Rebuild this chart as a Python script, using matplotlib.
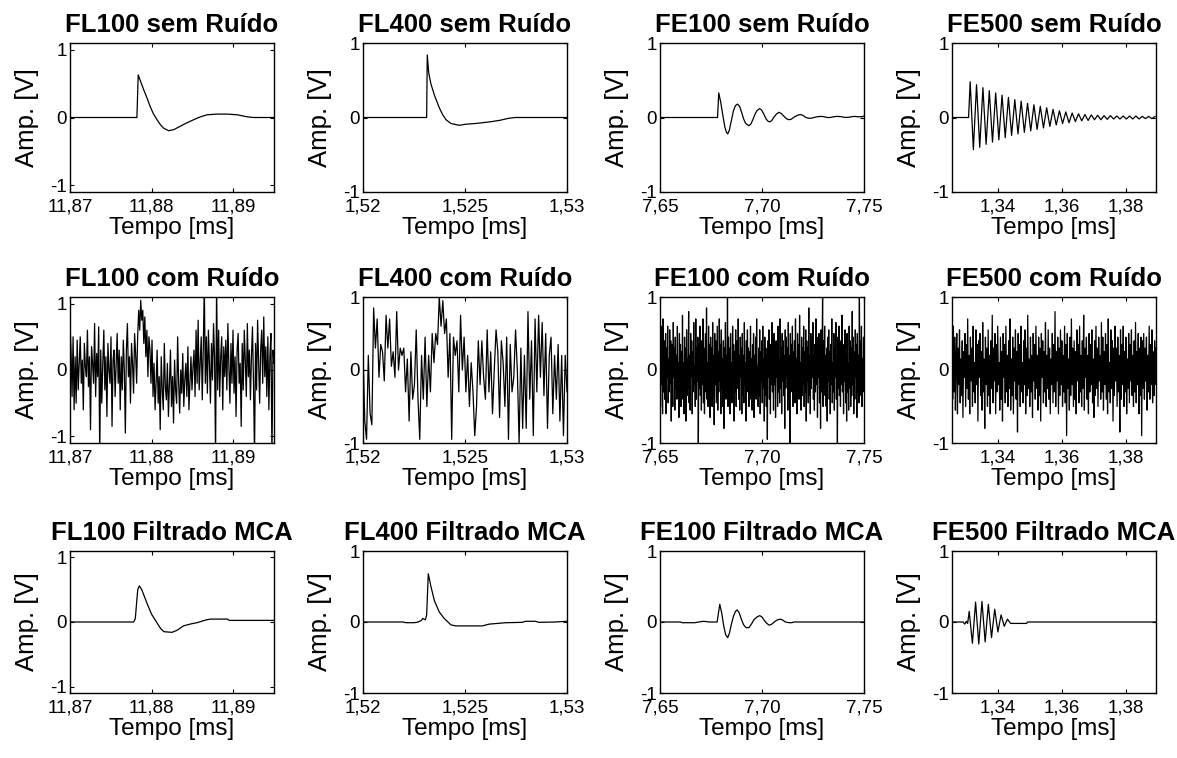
import numpy as np
import matplotlib
matplotlib.use("Agg")
import matplotlib.pyplot as plt

plt.rcParams['font.family'] = ['Liberation Sans', 'DejaVu Sans']

# ---------------- data ----------------
titles = [["FL100 sem Ruído", "FL400 sem Ruído", "FE100 sem Ruído", "FE500 sem Ruído"],
          ["FL100 com Ruído", "FL400 com Ruído", "FE100 com Ruído", "FE500 com Ruído"],
          ["FL100 Filtrado MCA", "FL400 Filtrado MCA", "FE100 Filtrado MCA", "FE500 Filtrado MCA"]]

xlims = [(11.87, 11.895), (1.52, 1.53), (7.65, 7.75), (1.3255, 1.3895)]
ylims = [(-1.1, 1.1), (-1.0, 1.0), (-1.0, 1.0), (-1.0, 1.0)]
xtick_vals = [[11.87, 11.88, 11.89], [1.52, 1.525, 1.53], [7.65, 7.70, 7.75], [1.34, 1.36, 1.38]]
xtick_labels = [["11,87", "11,88", "11,89"], ["1,52", "1,525", "1,53"],
                ["7,65", "7,70", "7,75"], ["1,34", "1,36", "1,38"]]
ytick_vals = [-1, 0, 1]
ytick_labels = ["-1", "0", "1"]

# Row 1 - clean signals
fl100_t = [11.870, 11.8782, 11.87836, 11.8786, 11.8790, 11.8794, 11.8798, 11.8802, 11.8807,
           11.8811, 11.8815, 11.8821, 11.8827, 11.8835, 11.8843, 11.8852, 11.8860, 11.8868,
           11.8880, 11.8893, 11.8905, 11.8917, 11.8925, 11.895]
fl100_v = [0, 0, 0.63, 0.55, 0.42, 0.30, 0.17, 0.06, -0.04, -0.11, -0.16, -0.195, -0.18,
           -0.13, -0.08, -0.03, 0.01, 0.04, 0.05, 0.05, 0.04, 0.01, 0.0, 0.0]

fl400_t = [1.520, 1.52312, 1.52315, 1.52322, 1.52333, 1.5235, 1.52374, 1.5239, 1.52407,
           1.52431, 1.52472, 1.52504, 1.52553, 1.52618, 1.52667, 1.52715, 1.52748, 1.530]
fl400_v = [0, 0, 0.84, 0.60, 0.45, 0.30, 0.13, 0.04, -0.03, -0.08, -0.105, -0.09, -0.08,
           -0.06, -0.04, -0.01, 0.0, 0.0]

fe100_t = [7.65, 7.6782, 7.6788, 7.6798, 7.6808, 7.6818, 7.6826, 7.6832, 7.6840, 7.6850,
           7.6860, 7.6870, 7.6880, 7.6890, 7.6900, 7.6910, 7.6920, 7.6935, 7.6945, 7.6955,
           7.6965, 7.6975, 7.6988, 7.6998, 7.7010, 7.7020, 7.7030, 7.7038, 7.7048, 7.7060,
           7.7072, 7.7084, 7.7096, 7.7110, 7.7122, 7.7133, 7.7145, 7.7160, 7.7175, 7.7188,
           7.7200, 7.7215, 7.7228, 7.7240, 7.7255, 7.7270, 7.7290, 7.7305, 7.7320, 7.7335,
           7.7350, 7.7370, 7.7390, 7.7410, 7.7430, 7.7450, 7.7470, 7.7490, 7.7500]
fe100_v = [0, 0, 0.33, 0.20, 0.03, -0.13, -0.20, -0.22, -0.17, -0.04,
           0.09, 0.16, 0.18, 0.15, 0.07, -0.02, -0.08, -0.11, -0.09, -0.03,
           0.04, 0.09, 0.12, 0.10, 0.04, -0.02, -0.05, -0.06, -0.04, 0.01,
           0.05, 0.07, 0.05, 0.01, -0.02, -0.03, -0.02, 0.01, 0.03, 0.04,
           0.03, 0.0, -0.01, -0.01, 0.0, 0.01, 0.015, 0.01, 0.0, 0.0,
           0.01, 0.015, 0.01, 0.0, 0.005, 0.015, 0.01, 0.01, 0.02]

fe500_pre_t = [1.3255, 1.3307]
fe500_osc_span = (1.3312, 1.3892)
fe500_osc_v = [.48, -.43, .44, -.40, .40, -.36, .36, -.33, .33, -.30, .30, -.27, .27, -.24,
               .24, -.22, .22, -.20, .19, -.18, .17, -.16, .15, -.14, .13, -.12, .11, -.10,
               .09, -.08, .075, -.07, .06, -.055, .05, -.045, .04, -.04, .035, -.03, .03, -.03,
               .025, -.025, .025, -.02, .02, -.02, .02, -.02, .02, -.02, .02, -.02, .015,
               -.015, .015, -.015, .015]

# Row 2 - noisy signals (uniformly sampled over the whole window)
fl100n_v = [.7, .3, -.4, .5, -.6, .2, -.5, .45, -.3, .1, .5, -.2, .15, -.6, .4, .05, -.1, .6, -.25, .2,
            -.9, .35, .1, -.2, .7, -.4, .25, -.1, .65, -1.3, .3, -.5, .1, .6, -.3, .2, -.7, .4, 0, -.2,
            .5, -.85, .15, .3, -.4, .1, .55, -.2, .3, -.6, .2, -.3, .45, 0, -.95, .3, .7, -.1, .2, -.5,
            .4, .1, -.35, .55, .25, -.2,
            .5, .9, .6, 1.05, .75, .9, .4, .8, .2, .6, -.1, .5, .3, -.2, .45,
            -.4, .1, -.6, -.2, .3, -.5, -.1, -.9, .2, -.3, -.6, .4, -.25, -.45, .1, -.7, -.2, .3, -.55, -.1,
            -.8, .15, -.3, -.5, .5, -.2, -.65, 0, -.35, .25, -.55, -.15, .1, -.4, .35, -.6, -.2, .2, -.3, .05,
            .3, -.4, .6, -.2, .75, -.3, .1, .5, -.45, .3, 1.3, -.2, .5, -.35, .6, .1, -.5, .4, -.15, .7,
            .2, -1.3, 1.3, -.3, .6, -.4, .2, .5, -.6, .35, -.1, .45, -.3, .7, .05, -.5, .4, -.2, .6, -.35,
            .2, -.7, .3, .55, -.2, .1, -.85, .4, -.3, .6, .15, -.4, .7, -.1, .3, -.45, .2, .65, -.2, -1.3,
            .4, -.3, .75, .1, -.5, .3, .6, -.2, .8, -.1, .35, -.4, .5, -.6, .2, .55, -1.3, .3, .1]

fl400n_v = [.25, -.7, -.95, .2, -.6, -.75, .85, .3, .7, -.1, .35, .25, -.15, .75, .3, .7, .05, .25, -.1, .8,
            0, .3, .2, .3, -.3, .15, -.7, .25, -.4, -.2, .55, -.4, -.95, .2, -.4, .45, -.5, .2, -.3, .5,
            .1, .5, .35, 1.0, .6, .95, .5, .7, -.1, .5, -.95, .45, .2, .4, -.3, .75, 0, .45, -.3, .2,
            -.5, .1, -.3, -.9, -.5, .4, -.2, .4, -.1, -.4, .55, -.3, .25, -.6, 0, .55, .25, -.65, .4, .1,
            -.5, .45, -.95, .35, -.3, -.1, .55, 0, -1.0, .3, -.8, .2, -.8, .8, -.4, .4, -.9, .7, -.3, .75,
            -.1, .65, -.35, .5, -.8, .2, .45, -.6, .2, -.4, .35, -.7, .2, -.9, .2, -.3]

fe100n_v = [.3, -.5, .6, -.2, .1, -.6, .7, -.3, .4, -.4, .2, .5, -.6, .3, -.1, .6, -.45, .15, -.3, .55,
            -.2, .4, -.7, .35, .05, -.5, .65, -.1, .3, -.55, .45, -.25, .2, -.4, .6, -.3, .1, -.65, .5, -.15,
            .35, -.5, .25, -.2, .75, -.4, .1, -.6, .45, -.05, .3, -.7, .55, -.35, .15, -.25, .8, -.45, .2, -.55,
            .5, -.1, .4, -.6, .25, -.3, .65, -.2, .05, -.5, .7, -.4, .3, -.15, .45, -1.05, .35, -.25, .6, -.35,
            .15, -.55, .4, -.2, .7, -.45, .3, -.6, .2, .5, -.3, .85, -.4, .1, -.5, .6, -.25, .35, -.65, .45,
            -.1, .3, -.5, .65, -.35, .2, -.75, .5, -.2, .4, -.45, .1, .6, -.55, .25, -.3, .7, -.15, .35, -.6,
            .55, -.25, .15, -.5, .4, -.8, .3, -.1, .65, -.4, .2, -.35, 1.05, -.5, .45, -.2, .3, -.6, .5, -.3,
            .1, -.45, .6, -.15, .35, -.7, .25, -.3, .55, -.5, .15, .4, -.25, .7, -.4, .2, -.55, .45, -.1, .3,
            -.6, .5, -.35, .2, -.45, .65, -.2, .1, -.7, .4, -.3, .55, -.15, .3, -.5, .25, -.4, .6, -.25, .15,
            -.55, .35, -.1, .5, -.65, .2, -.3, .45, -.4, .7, -.2, .05, -.5, .3, -.35, .55, -.6, .25, -.15, .4,
            -.45, .6, -.25, .15, -.7, .45, -.35, .3, -.5, .2, -.95, .4, -.1, .55, -.4, .25, -.6, .35, -.2, .65,
            -.3, .1, -.55, .5, -.2, .35, -.65, .4, -.1, .25, -.5, .6, -.3, .15, -.45, .7, -.25, .3, -.6, .5,
            -.15, .4, -.35, .2, -.8, .55, -.25, .45, -.1, .3, -.55, .65, -.4, .2, -1.05, .5, -.3, .35, -.2, .6,
            -.5, .25, -.1, .4, -.45, .7, -.3, .15, -.6, .5, -.2, .35, -.4, .75, -.25, .1, -.55, .45, -.35, .3,
            -.2, .6, -.5, .25, -.3, .55, -.7, .4, -.15, .3, -.45, .85, -.35, .2, -.6, .5, -.25, .4, -.1, .65,
            -.4, .2, -.55, .35, -.3, .7, -.2, .45, -.65, .3, -.1, .5, -.45, .25, -.8, .55, -.3, .15, 1.05, -.5,
            .4, -.25, .6, -.35, .2, -.5, .3, -.7, .45, -.15, .55, -.4, .25, -.6, .35, -.2, .7, -.45, .1, -.3,
            .5, -.55, .3, -.1, .65, -.4, .2, -1.05, .45, -.25, .6, -.35, .15, -.5, .4, -.2, .75, -.3, .25, -.6,
            .35, -.15, .55, -.45, .2, -.7, .5, -.3, .1, -.55, .6, -.25, .4, -.5, .3, -.35, .8, -.2, .45, -.6,
            .25, -.4, .55, -.1, .35, -.65, .5, -.3, .2, -.45, 1.05, -.35, .4, -.2, .6, -.5, .15, -.3, .45, -.25]

fe500n_v = [.2, -.4, .6, -.3, .45, -.55, .1, .5, -.6, .3, -.2, .55, -.45, .15, -.35, .4, -.65, .25, -.1, .5,
            -.5, .35, -.25, .7, -.4, .2, -.6, .45, -.15, .3, -.5, .6, -.3, .1, -.45, .55, -.2, .35, -.7, .4,
            -.1, .5, -.35, .25, -.55, .65, -.3, .15, -.8, .45, -.2, .3, -.5, .55, -.35, .2, -.6, .4, -.25, .75,
            -.45, .3, -.15, .5, -.6, .35, -.3, .6, -.2, .1, -.55, .45, -.4, .25, -.7, .5, -.1, .35, -.45, .6,
            -.3, .2, -.5, .4, -.25, .7, -.55, .15, -.35, .45, -.6, .3, -.15, .55, -.4, .25, -.85, .5, -.2, .35,
            -.5, .6, -.3, .1, -.45, .4, -.2, .55, -.6, .3, -.35, .75, -.25, .15, -.5, .45, -.3, .2, -.65, .5,
            -.15, .35, -.4, .6, -.25, .2, -.55, .45, -.35, .3, -.7, .5, -.1, .4, -.45, .25, -.3, .65, -.5, .2,
            -.25, .55, -.4, .3, -.6, .15, -.2, .5, -.45, .35, -.3, .8, -.5, .25, -.15, .45, -.6, .3, -.35, .55,
            -.2, .4, -.5, .2, -.3, .6, -.45, .35, -.9, .5, -.25, .15, -.55, .45, -.35, .7, -.2, .3, -.5, .4,
            -.4, .25, -.6, .55, -.15, .35, -.45, .6, -.3, .2, -.5, .4, -.25, .75, -.55, .3, -.1, .45, -.4, .2,
            -.6, .5, -.3, .35, -.2, .55, -.45, .15, -.65, .4, -.35, .6, -.25, .3, -.5, .45, -.15, .2, -.4, .65,
            -.3, .45, -.55, .25, -.2, .5, -.4, .35, -.6, .7, -.3, .1, -.45, .55, -.25, .4, -.7, .3, -.35, .6,
            -.15, .3, -.5, .45, -.3, .2, -.85, .55, -.4, .35, -.2, .6, -.5, .25, -.3, .45, -.6, .15, -.25, .5,
            -.45, .35, -.15, .55, -.35, .2, -.5, .4, -.3, .65, -.45, .25, -.2, .5, -.6, .3, -.35, .45, -.9, .4,
            -.25, .5, -.4, .3, -.15, .45, -.55, .2, -.3, .6, -.4, .35, -.2, .55, -.45, .25, -.35, .4, -.2, .3]

# Row 3 - filtered signals
fl100f_t = [11.870, 11.8778, 11.8780, 11.8783, 11.8785, 11.8788, 11.8794, 11.8800, 11.8807,
            11.8811, 11.8815, 11.8825, 11.8831, 11.8839, 11.8848, 11.8856, 11.8866, 11.8872,
            11.8893, 11.8895, 11.895]
fl100f_v = [0, 0, 0.05, 0.50, 0.56, 0.50, 0.30, 0.12, -0.02, -0.10, -0.15, -0.16, -0.13,
            -0.06, -0.03, -0.01, 0.03, 0.045, 0.045, 0.025, 0.025]

fl400f_t = [1.520, 1.52195, 1.52211, 1.52252, 1.52270, 1.52285, 1.52293, 1.52306, 1.52312,
            1.52320, 1.52333, 1.52350, 1.52374, 1.52398, 1.52431, 1.52455, 1.52585, 1.52618,
            1.52700, 1.52780, 1.52797, 1.52846, 1.52862, 1.52943, 1.530]
fl400f_v = [0, 0, -0.01, -0.01, 0.0, 0.02, 0.05, 0.03, 0.10, 0.68, 0.50, 0.30, 0.14, 0.05,
            -0.04, -0.055, -0.055, -0.03, -0.01, -0.005, 0.01, 0.01, -0.005, 0.0, 0.01]

fe100f_t = [7.65, 7.6599, 7.6610, 7.6670, 7.6690, 7.6714, 7.6740, 7.6780, 7.6793, 7.6803,
            7.6812, 7.6822, 7.6832, 7.6840, 7.6850, 7.6860, 7.6870, 7.6878, 7.6888, 7.6900,
            7.6910, 7.6922, 7.6936, 7.6948, 7.6960, 7.6975, 7.6989, 7.7000, 7.7012, 7.7024,
            7.7035, 7.7048, 7.7060, 7.7075, 7.7089, 7.7100, 7.7115, 7.7133, 7.7145, 7.7158,
            7.75]
fe100f_v = [0, 0, -0.01, -0.01, 0.0, 0.01, 0.0, 0.0, 0.25, 0.12, -0.05, -0.18, -0.22, -0.16,
            -0.03, 0.08, 0.15, 0.17, 0.13, 0.03, -0.04, -0.08, -0.08, -0.03, 0.03, 0.07, 0.09,
            0.07, 0.02, -0.02, -0.045, -0.03, 0.0, 0.03, 0.04, 0.03, 0.0, -0.01, -0.01, 0.0, 0.0]

fe500f_pre_t = [1.3255, 1.3290, 1.3295, 1.3300, 1.3304]
fe500f_pre_v = [0, 0, -0.03, 0.01, -0.02]
fe500f_osc_span = (1.3309, 1.3439)
fe500f_osc_v = [.15, -.30, .28, -.31, .29, -.28, .25, -.22, .18, -.14, .10, -.06, .04, -.02]
fe500f_post_t = [1.3444, 1.3489, 1.3492, 1.3895]
fe500f_post_v = [-0.02, -0.02, 0.0, 0.0]

# ---------------- build series ----------------
def uniform(span, vals):
    return np.linspace(span[0], span[1], len(vals)), np.asarray(vals)

series = [[None] * 4 for _ in range(3)]
series[0][0] = (fl100_t, fl100_v)
series[0][1] = (fl400_t, fl400_v)
series[0][2] = (fe100_t, fe100_v)
t_osc, v_osc = uniform(fe500_osc_span, fe500_osc_v)
series[0][3] = (np.r_[fe500_pre_t, t_osc], np.r_[[0, 0], v_osc])
series[1][0] = uniform(xlims[0], fl100n_v)
series[1][1] = uniform(xlims[1], fl400n_v)
series[1][2] = uniform(xlims[2], fe100n_v)
series[1][3] = uniform(xlims[3], fe500n_v)
series[2][0] = (fl100f_t, fl100f_v)
series[2][1] = (fl400f_t, fl400f_v)
series[2][2] = (fe100f_t, fe100f_v)
t_osc, v_osc = uniform(fe500f_osc_span, fe500f_osc_v)
series[2][3] = (np.r_[fe500f_pre_t, t_osc, fe500f_post_t],
                np.r_[fe500f_pre_v, v_osc, fe500f_post_v])

# ---------------- layout ----------------
W, H = 1177, 758
fig = plt.figure(figsize=(W / 100, H / 100), dpi=100)
col_left = [70, 363, 660, 952]
col_w = 204
row_top = [43, 297, 551]
row_bot = [192, 443, 693]

for r in range(3):
    for c in range(4):
        l = col_left[c] / W
        b = 1 - row_bot[r] / H
        h = (row_bot[r] - row_top[r]) / H
        ax = fig.add_axes([l, b, col_w / W, h])
        t, v = series[r][c]
        ax.plot(t, v, color='black', lw=0.9)
        ax.set_xlim(*xlims[c])
        ax.set_ylim(*ylims[c])
        ax.set_xticks(xtick_vals[c])
        ax.set_xticklabels(xtick_labels[c])
        ax.set_yticks(ytick_vals)
        ax.set_yticklabels(ytick_labels)
        ax.tick_params(direction='in', top=True, right=True, length=3, width=0.8,
                       labelsize=13.5, pad=2)
        ax.tick_params(axis='x', pad=5)
        for s in ax.spines.values():
            s.set_linewidth(1.0)
        ax.set_title(titles[r][c], fontsize=18.5, fontweight='bold', pad=8)
        ax.set_xlabel("Tempo [ms]", fontsize=17.5, labelpad=1)
        ax.set_ylabel("Amp. [V]", fontsize=18.5, labelpad=8)

fig.savefig("out.png", dpi=100)
